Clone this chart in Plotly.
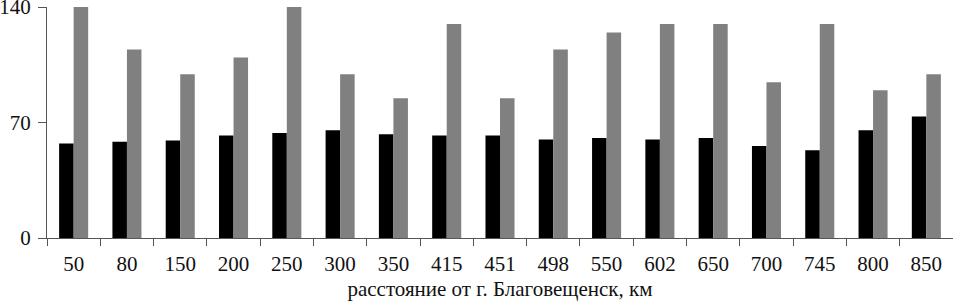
import plotly.graph_objects as go

distances = ["50", "80", "150", "200", "250", "300", "350", "415", "451", "498",
             "550", "602", "650", "700", "745", "800", "850"]
series_black = [57.3, 58.3, 59.1, 62.1, 63.7, 65.4, 62.9, 62.1, 62.1, 59.7,
                60.7, 59.7, 60.7, 55.8, 53.2, 65.4, 73.7]
series_gray = [140, 114.3, 99.3, 109.5, 140, 99.3, 84.8, 129.7, 84.8, 114.3,
               124.6, 129.7, 129.7, 94.5, 129.7, 89.6, 99.3]
y_ticks = [0, 70, 140]
x_title = "расстояние от г. Благовещенск, км"

font = "Liberation Serif, Times New Roman, DejaVu Serif, serif"

fig = go.Figure()
fig.add_trace(go.Bar(x=distances, y=series_black, marker=dict(color="#000000", line=dict(width=0))))
fig.add_trace(go.Bar(x=distances, y=series_gray, marker=dict(color="#808080", line=dict(width=0))))

fig.update_layout(
    width=953, height=304,
    margin=dict(l=47, r=0, t=7, b=66, autoexpand=False),
    paper_bgcolor="white", plot_bgcolor="white",
    barmode="group", bargap=0.455, bargroupgap=0,
    showlegend=False,
    font=dict(family=font, size=21, color="#111111"),
    xaxis=dict(
        type="category", showline=True, linecolor="#555555", linewidth=1,
        ticks="outside", tickson="boundaries", ticklen=7, tickcolor="#555555",
        showgrid=False, tickfont=dict(family=font, size=21), automargin=False,
        ticklabelstandoff=7,
        title=dict(text=x_title, font=dict(family=font, size=21), standoff=6),
    ),
    yaxis=dict(
        range=[0, 140.05], tickvals=y_ticks, showline=True, linecolor="#555555",
        linewidth=1, ticks="outside", ticklen=8, tickcolor="#555555",
        showgrid=False, zeroline=False, tickfont=dict(family=font, size=21),
        ticklabelstandoff=3, automargin=False, ticklabeloverflow="allow",
    ),
)

fig.write_html("out.html", config={"displayModeBar": False},
               post_script="document.body.style.margin='0';")
